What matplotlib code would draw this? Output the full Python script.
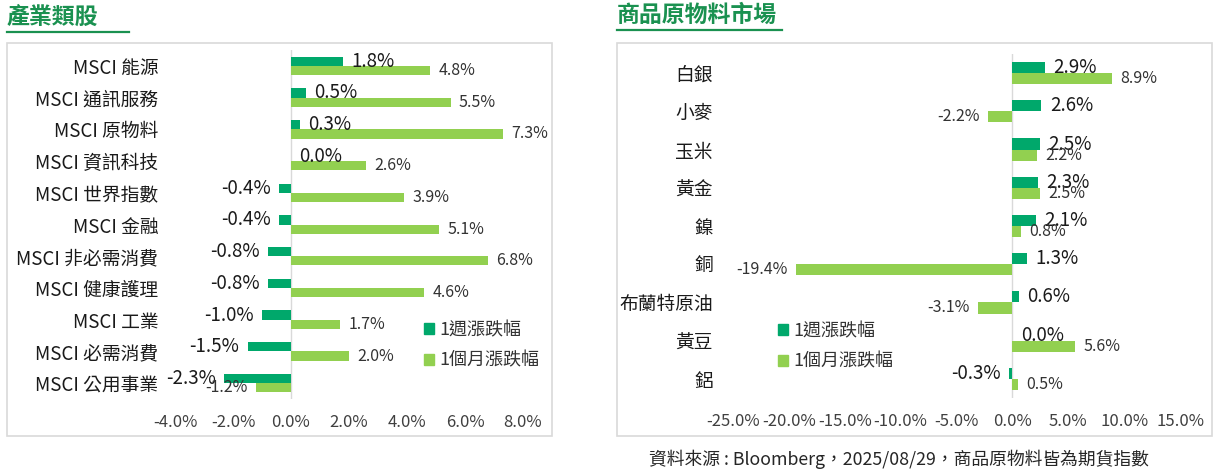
import matplotlib
matplotlib.use("Agg")
import matplotlib.pyplot as plt
from matplotlib.patches import Rectangle, Patch
from matplotlib.lines import Line2D

plt.rcParams['font.family'] = ['Noto Sans CJK TC', 'DejaVu Sans']

# ---- data ----
sector_names = ['MSCI 能源', 'MSCI 通訊服務', 'MSCI 原物料', 'MSCI 資訊科技', 'MSCI 世界指數',
                'MSCI 金融', 'MSCI 非必需消費', 'MSCI 健康護理', 'MSCI 工業', 'MSCI 必需消費',
                'MSCI 公用事業']
sector_week = [1.8, 0.5, 0.3, 0.0, -0.4, -0.4, -0.8, -0.8, -1.0, -1.5, -2.3]
sector_month = [4.8, 5.5, 7.3, 2.6, 3.9, 5.1, 6.8, 4.6, 1.7, 2.0, -1.2]
sector_ticks = [-4, -2, 0, 2, 4, 6, 8]

comm_names = ['白銀', '小麥', '玉米', '黃金', '鎳', '銅', '布蘭特原油', '黃豆', '鋁']
comm_week = [2.9, 2.6, 2.5, 2.3, 2.1, 1.3, 0.6, 0.0, -0.3]
comm_month = [8.9, -2.2, 2.2, 2.5, 0.8, -19.4, -3.1, 5.6, 0.5]
comm_ticks = [-25, -20, -15, -10, -5, 0, 5, 10, 15]

legend_labels = ['1週漲跌幅', '1個月漲跌幅']
source_text = '資料來源 : Bloomberg，2025/08/29，商品原物料皆為期貨指數'

DARK = '#00A86B'
LIGHT = '#92D050'
TITLE_GREEN = '#1A9150'
W, H = 1214, 472

fig = plt.figure(figsize=(W / 100, H / 100), dpi=100)


def px_box(x0, y0, x1, y1):
    # pixel box (top-left origin) -> figure fraction rect
    return [x0 / W, 1 - y1 / H, (x1 - x0) / W, (y1 - y0) / H]


def fx(x):
    return x / W


def fy(y):
    return 1 - y / H


# frames
for x0, x1 in [(7, 552), (617, 1212)]:
    fig.patches.append(Rectangle((fx(x0), fy(436)), fx(x1) - fx(x0), fy(43) - fy(436),
                                 transform=fig.transFigure, fill=False,
                                 edgecolor='#D9D9D9', linewidth=1.2))

# titles with underline
fig.text(fx(7), fy(17), '產業類股', fontsize=16.5, fontweight='bold', color=TITLE_GREEN,
         va='center', ha='left')
fig.add_artist(Line2D([fx(7), fx(129)], [fy(31.5), fy(31.5)], color=TITLE_GREEN, lw=1.6))
fig.text(fx(617), fy(15), '商品原物料市場', fontsize=16.5, fontweight='bold', color=TITLE_GREEN,
         va='center', ha='left')
fig.add_artist(Line2D([fx(617), fx(782)], [fy(29.5), fy(29.5)], color=TITLE_GREEN, lw=1.6))


def draw_panel(ax, names, week, month, ticks, ylab_pad):
    n = len(names)
    ys = list(range(n))
    h = 0.29
    ax.barh([y - h / 2 for y in ys], week, height=h, color=DARK, label=legend_labels[0])
    ax.barh([y + h / 2 for y in ys], month, height=h, color=LIGHT, label=legend_labels[1])
    ax.axvline(0, color='#D9D9D9', lw=1, zorder=0)
    ax.set_ylim(n - 0.5, -0.5)
    ax.set_xlim(ticks[0], ticks[-1])
    ax.set_xticks(ticks)
    ax.set_xticklabels(['%.1f%%' % t for t in ticks], fontsize=12, color='#404040')
    ax.set_yticks(ys)
    ax.set_yticklabels(names, fontsize=13.5, color='#1A1A1A', fontweight='medium')
    ax.tick_params(axis='both', length=0)
    ax.tick_params(axis='y', pad=ylab_pad)
    ax.tick_params(axis='x', pad=11)
    for s in ax.spines.values():
        s.set_visible(False)
    ax.patch.set_alpha(0)
    for y, v in zip(ys, week):
        ax.annotate('%.1f%%' % v, (v, y - h / 2), xytext=(6 if v >= 0 else -6, 0),
                    textcoords='offset points', ha='left' if v >= 0 else 'right',
                    va='center', fontsize=13.5, color='#1A1A1A', fontweight='medium')
    for y, v in zip(ys, month):
        ax.annotate('%.1f%%' % v, (v, y + h / 2), xytext=(6 if v >= 0 else -6, 0),
                    textcoords='offset points', ha='left' if v >= 0 else 'right',
                    va='center', fontsize=11.5, color='#333333')


ax1 = fig.add_axes(px_box(175, 50, 523, 399))
draw_panel(ax1, sector_names, sector_week, sector_month, sector_ticks, 12)

ax2 = fig.add_axes(px_box(733, 54, 1180, 398))
draw_panel(ax2, comm_names, comm_week, comm_month, comm_ticks, 14.5)

handles = [Patch(color=DARK), Patch(color=LIGHT)]
for lx, ly in [(424, 321), (778, 322)]:
    fig.legend(handles, legend_labels, loc='upper left', bbox_to_anchor=(fx(lx), fy(ly)),
               frameon=False, fontsize=13, handlelength=0.55, handleheight=0.55,
               handletextpad=0.3, labelspacing=0.7, borderpad=0, borderaxespad=0,
               labelcolor='#333333')

fig.text(fx(899), fy(459), source_text, fontsize=12.8, color='#262626', ha='center', va='center')

fig.savefig('out.png', dpi=100)
